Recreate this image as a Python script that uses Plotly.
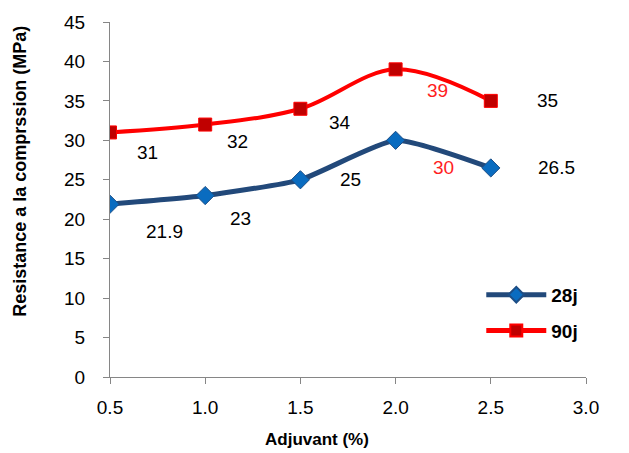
import plotly.graph_objects as go

# Adjuvant dosage (%) and compressive strength (MPa) at 28 and 90 days
adjuvant = [0.5, 1.0, 1.5, 2.0, 2.5]
res_28j = [21.9, 23, 25, 30, 26.5]
res_90j = [31, 32, 34, 39, 35]
labels_28j = ["21.9", "23", "25", "30", "26.5"]
labels_90j = ["31", "32", "34", "39", "35"]

# label pixel offsets and colours
off_28j = [(54, -27), (35, -23), (50, 0), (48, -27), (66, 0)]
off_90j = [(37, -20), (32, -17), (40, -14), (42, -21), (57, 0)]
col_28j = ["black", "black", "black", "#FF1E1E", "black"]
col_90j = ["black", "black", "black", "#FF1E1E", "black"]

FONT = "Liberation Sans, Arial, sans-serif"

fig = go.Figure()
fig.add_trace(go.Scatter(
    x=adjuvant, y=res_28j, name="28j", mode="lines+markers", legendgroup="a",
    line=dict(color="#22497A", width=5, shape="spline", smoothing=0.5),
    marker=dict(symbol="diamond", size=14, color="#0A6CC0",
                line=dict(color="#1D4E86", width=1)),
))
fig.add_trace(go.Scatter(
    x=adjuvant, y=res_90j, name="90j", mode="lines+markers", legendgroup="b",
    line=dict(color="#FF0000", width=4, shape="spline", smoothing=1.0),
    marker=dict(symbol="square", size=13, color="#C00000",
                line=dict(color="#FF0000", width=1)),
))

annotations = []
for xs, ys, labs, offs, cols in [
    (adjuvant, res_28j, labels_28j, off_28j, col_28j),
    (adjuvant, res_90j, labels_90j, off_90j, col_90j),
]:
    for x, y, t, (dx, dy), c in zip(xs, ys, labs, offs, cols):
        annotations.append(dict(
            x=x, y=y, xref="x", yref="y", text=t, showarrow=False,
            xshift=dx, yshift=dy, font=dict(family=FONT, size=19, color=c),
        ))

W, H = 629, 453
L, R, T, B = 110, 43, 19, 76


def px_to_paper(px, py):
    return (px - L) / (W - L - R), (H - py - B) / (H - T - B)


# axis titles, centred at pixel positions
tx, ty = px_to_paper(317, 440)
annotations.append(dict(
    x=tx, y=ty, xref="paper", yref="paper", text="<b>Adjuvant (%)</b>",
    xanchor="center", yanchor="middle",
    showarrow=False, font=dict(family=FONT, size=17, color="black"),
))
tx, ty = px_to_paper(20, 170)
annotations.append(dict(
    x=tx, y=ty, xref="paper", yref="paper",
    text="<b>Resistance a la comprssion (MPa)</b>", textangle=-90,
    xanchor="center", yanchor="middle",
    showarrow=False, font=dict(family=FONT, size=18, color="black"),
))

fig.update_layout(
    width=W, height=H,
    margin=dict(l=L, r=R, t=T, b=B),
    paper_bgcolor="white", plot_bgcolor="white",
    font=dict(family=FONT, size=19, color="black"),
    showlegend=True,
    legend=dict(
        x=0.78, y=0.285, xanchor="left", yanchor="top",
        font=dict(family=FONT, size=19, color="black", weight="bold"),
        bgcolor="rgba(0,0,0,0)", itemwidth=60, itemsizing="constant",
        traceorder="grouped", tracegroupgap=8,
    ),
    annotations=annotations,
    xaxis=dict(
        range=[0.5, 3.0], tickvals=[0.5, 1.0, 1.5, 2.0, 2.5, 3.0],
        ticktext=["0.5", "1.0", "1.5", "2.0", "2.5", "3.0"],
        showgrid=False, zeroline=False, showline=True, linecolor="#868686",
        linewidth=1, ticks="outside", ticklen=6, tickcolor="#868686",
        tickfont=dict(family=FONT, size=19), ticklabelstandoff=7,
    ),
    yaxis=dict(
        range=[0, 45], tickvals=list(range(0, 50, 5)),
        showgrid=False, zeroline=False, showline=True, linecolor="#868686",
        linewidth=1, ticks="outside", ticklen=6, tickcolor="#868686",
        tickfont=dict(family=FONT, size=19), ticklabelstandoff=14,
    ),
)

fig.write_html("out.html")
